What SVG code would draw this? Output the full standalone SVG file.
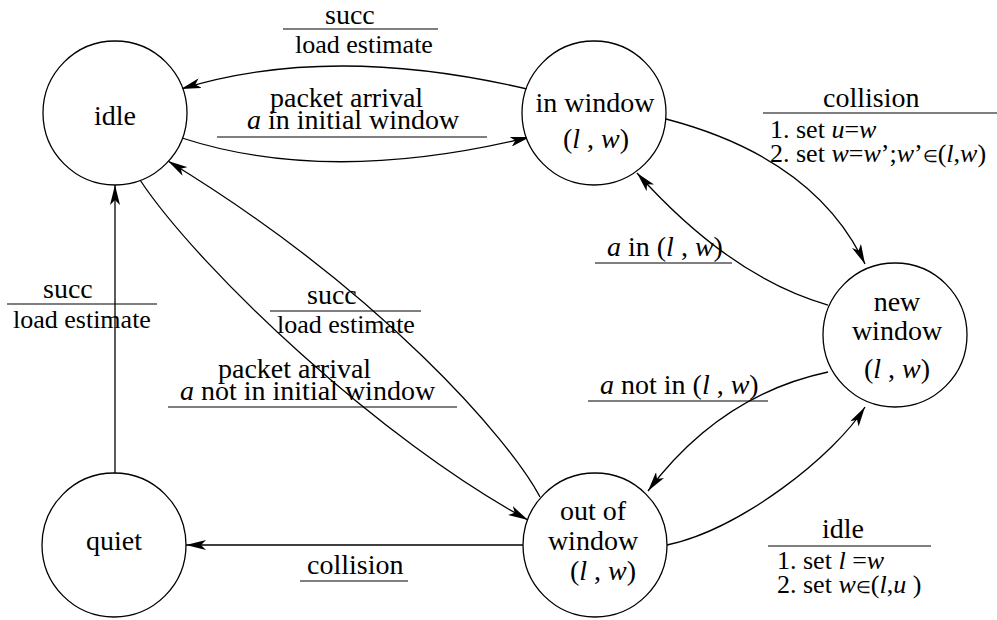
<svg xmlns="http://www.w3.org/2000/svg" width="997" height="620" viewBox="0 0 997 620">
  <style>
    text { font-family: 'Liberation Serif', 'Times New Roman', serif; font-size: 28px; fill: #000; }
    .sm { font-size: 26px; }
    .it { font-style: italic; }
    .mid { text-anchor: middle; }
    .el { font-size: 17px; }
    .state { fill: #fff; stroke: #000; stroke-width: 1.3; }
    .edges { fill: none; stroke: #000; stroke-width: 1.3; }
    .edges path { marker-end: url(#arrow); }
    .rules { stroke: #000; stroke-width: 1.2; }
  </style>
  <defs>
    <marker id="arrow" markerUnits="userSpaceOnUse" viewBox="0 0 20 10" refX="20" refY="5" markerWidth="20" markerHeight="10" orient="auto">
      <path d="M0,0 L20,5 L0,10 L5,5 Z" fill="#000"/>
    </marker>
  </defs>

  <rect width="997" height="620" fill="#fff"/>

  <!-- transitions -->
  <g id="connectors" class="edges">
    <path d="M527,89 Q330,43 181,89"/>
    <path d="M182,138 Q330,186 530,137"/>
    <path d="M666,119 Q815,158 865,264"/>
    <path d="M828,305 Q730,277 637,173"/>
    <path d="M828,372 Q720,395 648,491"/>
    <path d="M667,545 C740,530 835,455 865,407"/>
    <path d="M140,180 C200,270 380,440 528,520"/>
    <path d="M540,497 C510,440 380,290 168,161"/>
    <path d="M115,473 L115,185"/>
    <path d="M523,545 L186,545"/>
  </g>

  <!-- fraction bars under / between transition labels -->
  <g id="label-rules" class="rules">
    <line x1="283" y1="29" x2="438" y2="29"/>
    <line x1="217" y1="137" x2="487" y2="137"/>
    <line x1="763" y1="113" x2="997" y2="113"/>
    <line x1="595" y1="263" x2="732" y2="263"/>
    <line x1="588" y1="401" x2="768" y2="401"/>
    <line x1="7" y1="304" x2="157" y2="304"/>
    <line x1="270" y1="311" x2="421" y2="311"/>
    <line x1="168" y1="407" x2="457" y2="407"/>
    <line x1="300" y1="581" x2="408" y2="581"/>
    <line x1="768" y1="546" x2="931" y2="546"/>
  </g>

  <!-- transition label text -->
  <g id="labels">
    <text x="325" y="24">succ</text>
    <text class="sm" x="295" y="53">load estimate</text>

    <text x="270" y="107">packet arrival</text>
    <text x="247" y="129"><tspan class="it">a</tspan> in initial window</text>

    <text x="823" y="107">collision</text>
    <text class="sm" x="770" y="138">1. set <tspan class="it">u</tspan>=<tspan class="it">w</tspan></text>
    <text class="sm" x="770" y="162">2. set <tspan class="it">w</tspan>=<tspan class="it">w</tspan>&#8217;;<tspan class="it">w</tspan>&#8217;<tspan class="el">&#8712;</tspan>(<tspan class="it">l</tspan>,<tspan class="it">w</tspan>)</text>

    <text x="607" y="256"><tspan class="it">a</tspan>  in (<tspan class="it">l</tspan> , <tspan class="it">w</tspan>)</text>

    <text x="600" y="394"><tspan class="it">a</tspan>  not in (<tspan class="it">l</tspan> , <tspan class="it">w</tspan>)</text>

    <text x="43" y="298">succ</text>
    <text class="sm" x="13" y="328">load estimate</text>

    <text x="307" y="304">succ</text>
    <text class="sm" x="277" y="333">load estimate</text>

    <text x="218" y="378">packet arrival</text>
    <text x="180" y="400"><tspan class="it">a</tspan>  not in initial window</text>

    <text x="307" y="574">collision</text>

    <text x="822" y="538">idle</text>
    <text class="sm" x="777" y="569">1. set <tspan class="it">l</tspan> =<tspan class="it">w</tspan></text>
    <text class="sm" x="777" y="593">2. set <tspan class="it">w</tspan><tspan class="el">&#8712;</tspan>(<tspan class="it">l</tspan>,<tspan class="it">u</tspan> )</text>
  </g>

  <!-- states -->
  <g id="idle">
    <circle class="state" cx="115" cy="113" r="72"/>
    <text class="mid" x="115" y="125">idle</text>
  </g>
  <g id="in-window">
    <circle class="state" cx="594" cy="113" r="72"/>
    <text class="mid" x="595" y="112">in window</text>
    <text class="mid" x="596" y="148">(<tspan class="it">l</tspan> , <tspan class="it">w</tspan>)</text>
  </g>
  <g id="new-window">
    <circle class="state" cx="895" cy="335" r="72"/>
    <text class="mid" x="897" y="311">new</text>
    <text class="mid" x="897" y="340">window</text>
    <text class="mid" x="897" y="378">(<tspan class="it">l</tspan> , <tspan class="it">w</tspan>)</text>
  </g>
  <g id="out-of-window">
    <circle class="state" cx="595" cy="545" r="72"/>
    <text class="mid" x="593" y="520">out of</text>
    <text class="mid" x="593" y="550">window</text>
    <text class="mid" x="603" y="580">(<tspan class="it">l</tspan> , <tspan class="it">w</tspan>)</text>
  </g>
  <g id="quiet">
    <circle class="state" cx="114" cy="545" r="72"/>
    <text class="mid" x="114" y="550">quiet</text>
  </g>
</svg>
